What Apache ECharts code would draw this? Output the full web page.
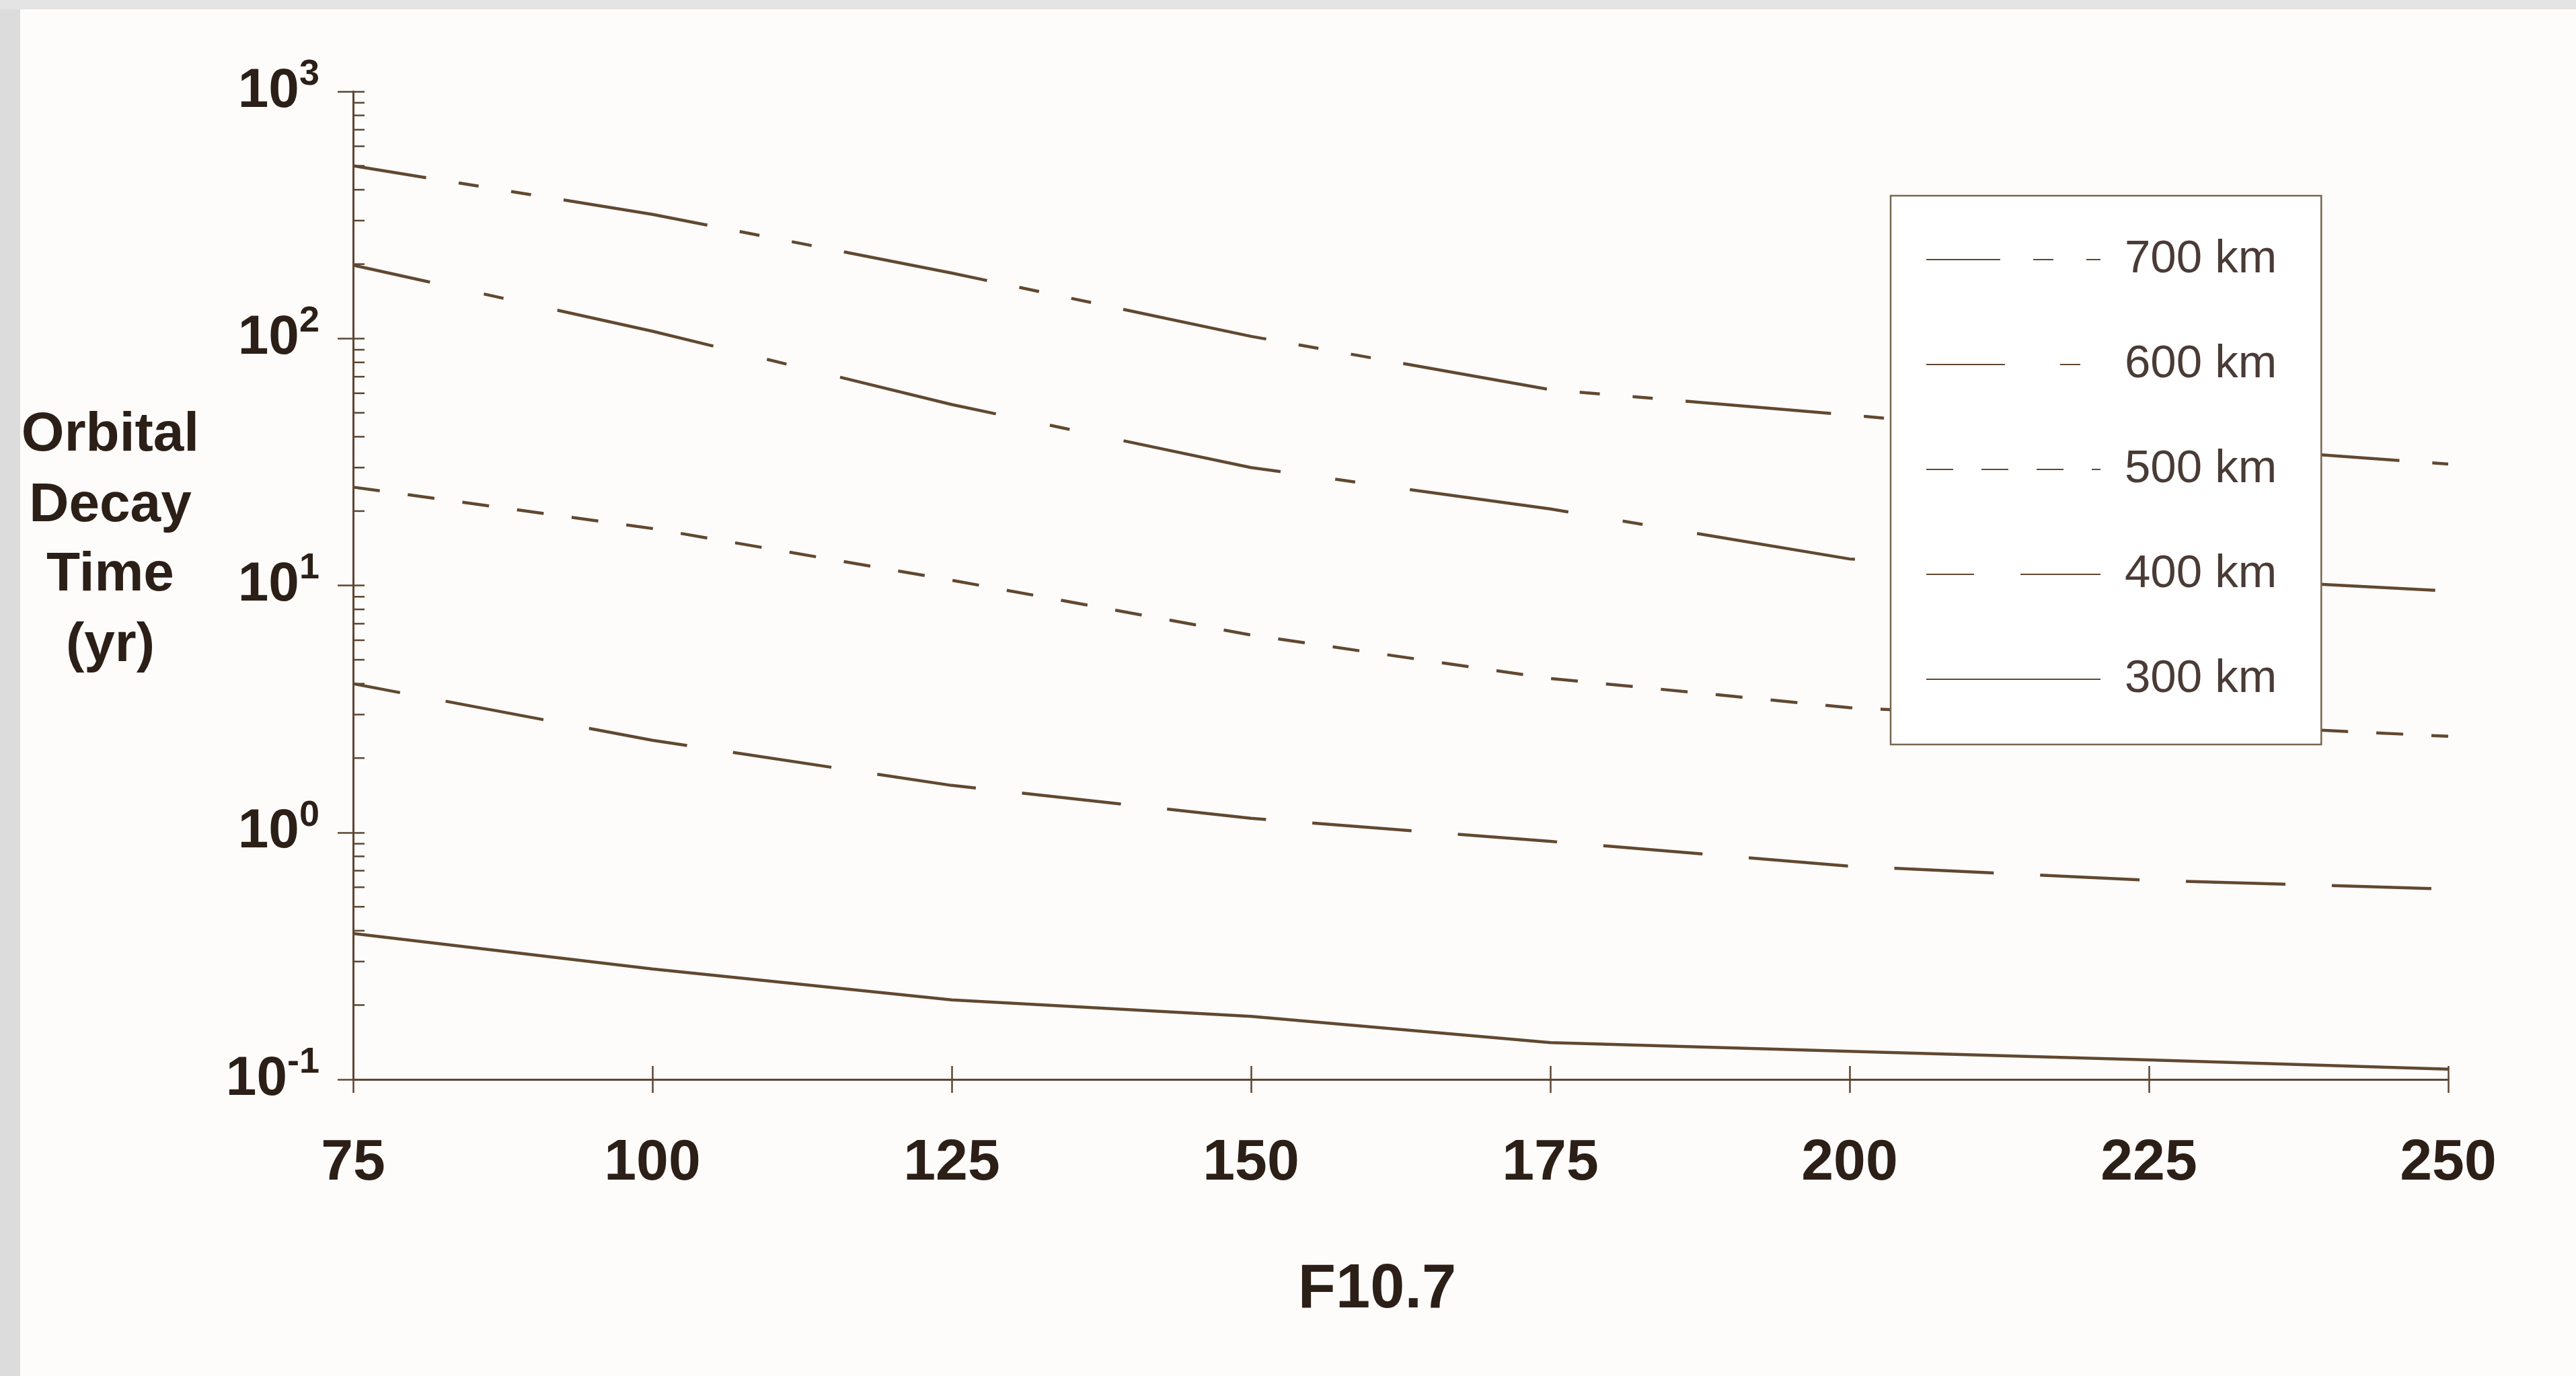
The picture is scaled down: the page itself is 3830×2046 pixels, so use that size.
<html>
<head>
<meta charset="UTF-8">
<title>Orbital Decay Time</title>
<script src="https://cdn.jsdelivr.net/npm/echarts@6/dist/echarts.min.js"></script>
<style>
    html, body{
        margin: 0;
        padding: 0;
        background: #fdfcfa;
    }
    #main{
        width: 3830px;
        height: 2046px;
    }
</style>
</head>
<body>
<div id="main"></div>
<script>
// F10.7 values on the x axis
var f107 = [75, 100, 125, 150, 175, 200, 225, 250];
// orbital decay time (yr) for each altitude
var km700 = [500, 318, 184, 102, 62, 49, 38, 31];
var km600 = [198, 107, 54, 30, 20.4, 12.8, 11, 9.5];
var km500 = [25, 17, 10.5, 6.3, 4.2, 3.2, 2.8, 2.45];
var km400 = [4.0, 2.36, 1.55, 1.14, 0.92, 0.73, 0.64, 0.59];
var km300 = [0.39, 0.28, 0.21, 0.18, 0.141, 0.13, 0.12, 0.11];
var seriesNames = ['700 km', '600 km', '500 km', '400 km', '300 km'];
// log axis: decades and the minor ticks 2..9 inside each decade
var decades = [0.1, 1, 10, 100];
var minorSteps = [2, 3, 4, 5, 6, 7, 8, 9];

var inkColor = '#5c4532';
var lineColor = '#614830';
var textColor = '#2b1f17';
var fontName = '"Liberation Sans", Arial, sans-serif';

function pairs(ys) {
    return f107.map(function (x, i) { return [x, ys[i]]; });
}

var minorTickData = [];
decades.forEach(function (d) {
    minorSteps.forEach(function (m) {
        minorTickData.push([f107[0], d * m]);
    });
});

function lineSeries(name, ys, dash, offset) {
    return {
        name: name,
        type: 'line',
        data: pairs(ys),
        symbol: 'none',
        smooth: false,
        lineStyle: {
            color: lineColor,
            width: 4.5,
            type: dash,
            dashOffset: offset
        },
        itemStyle: { color: lineColor },
        z: 2
    };
}

var myChart = echarts.init(document.getElementById('main'));

var option = {
    backgroundColor: '#fdfcfa',
    animation: false,
    grid: {
        left: 525,
        top: 136,
        right: 190,
        bottom: 441
    },
    legend: {
        data: seriesNames,
        orient: 'vertical',
        left: 2811,
        top: 291,
        itemWidth: 259,
        itemHeight: 70,
        itemGap: 86,
        padding: [60, 66, 62, 52],
        backgroundColor: '#ffffff',
        borderColor: '#7a6650',
        borderWidth: 2.5,
        borderRadius: 0,
        // hide the symbol that line series put in the middle of the legend icon
        itemStyle: { color: 'rgba(0,0,0,0)', borderWidth: 0, opacity: 0 },
        textStyle: {
            fontFamily: fontName,
            fontSize: 69,
            color: '#4a3b36',
            lineHeight: 70,
            padding: [0, 0, 0, 31]
        }
    },
    xAxis: [{
        type: 'value',
        min: 75,
        max: 250,
        interval: 25,
        position: 'bottom',
        splitLine: { show: false },
        axisLine: { lineStyle: { color: inkColor, width: 3 } },
        axisTick: { length: 20, lineStyle: { color: inkColor, width: 2.5 } },
        axisLabel: {
            margin: 82,
            fontFamily: fontName,
            fontWeight: 'bold',
            fontSize: 86,
            color: textColor
        },
        name: 'F10.7',
        nameLocation: 'middle',
        nameGap: 268,
        nameTextStyle: {
            fontFamily: fontName,
            fontWeight: 'bold',
            fontSize: 92,
            color: textColor,
            padding: [0, 70, 0, 0]
        }
    }, {
        type: 'value',
        min: 75,
        max: 250,
        interval: 25,
        position: 'bottom',
        splitLine: { show: false },
        axisLine: { show: false },
        axisTick: { inside: true, length: 20, lineStyle: { color: inkColor, width: 2.5 } },
        axisLabel: { show: false }
    }],
    yAxis: [{
        type: 'log',
        logBase: 10,
        min: 0.1,
        max: 1000,
        position: 'left',
        splitLine: { show: false },
        axisLine: { lineStyle: { color: inkColor, width: 3 } },
        axisTick: { length: 23, lineStyle: { color: inkColor, width: 2.5 } },
        axisLabel: {
            margin: 50,
            color: textColor,
            formatter: function (value) {
                var e = Math.round(Math.log(value) / Math.LN10);
                return '{b|10}{s|' + e + '}';
            },
            rich: {
                b: {
                    fontFamily: fontName,
                    fontWeight: 'bold',
                    fontSize: 82,
                    lineHeight: 104,
                    color: textColor
                },
                s: {
                    fontFamily: fontName,
                    fontWeight: 'bold',
                    fontSize: 54,
                    lineHeight: 54,
                    verticalAlign: 'top',
                    color: textColor
                }
            }
        }
    }, {
        type: 'log',
        logBase: 10,
        min: 0.1,
        max: 1000,
        position: 'left',
        splitLine: { show: false },
        axisLine: { show: false },
        axisTick: { inside: true, length: 17, lineStyle: { color: inkColor, width: 2.5 } },
        axisLabel: { show: false }
    }],
    graphic: [
        { type: 'rect', left: 0, top: 0, shape: { width: 30, height: 2046 }, style: { fill: '#dcdcdc' }, silent: true },
        { type: 'rect', left: 0, top: 0, shape: { width: 3830, height: 14 }, style: { fill: '#e4e4e4' }, silent: true },
        { type: 'text', style: { text: 'Orbital', x: 164, y: 647, align: 'center', verticalAlign: 'middle', fontFamily: fontName, fontWeight: 'bold', fontSize: 82, fill: textColor } },
        { type: 'text', style: { text: 'Decay', x: 164, y: 752, align: 'center', verticalAlign: 'middle', fontFamily: fontName, fontWeight: 'bold', fontSize: 82, fill: textColor } },
        { type: 'text', style: { text: 'Time', x: 164, y: 855, align: 'center', verticalAlign: 'middle', fontFamily: fontName, fontWeight: 'bold', fontSize: 82, fill: textColor } },
        { type: 'text', style: { text: '(yr)', x: 164, y: 960, align: 'center', verticalAlign: 'middle', fontFamily: fontName, fontWeight: 'bold', fontSize: 82, fill: textColor } }
    ],
    series: [
        lineSeries('700 km', km700, [217, 49, 30, 49, 30, 49], 107),
        lineSeries('600 km', km600, [238, 82, 30, 82], 121),
        lineSeries('500 km', km500, [40, 42], 0),
        lineSeries('400 km', km400, [148, 69], 77),
        lineSeries('300 km', km300, 'solid', 0),
        {
            // minor ticks of the log axis, placed through the axis scale
            type: 'custom',
            silent: true,
            data: minorTickData,
            encode: { x: 0, y: 1 },
            clip: false,
            renderItem: function (params, api) {
                var p = api.coord([api.value(0), api.value(1)]);
                return {
                    type: 'line',
                    shape: { x1: p[0], y1: p[1], x2: p[0] + 17, y2: p[1] },
                    style: { stroke: inkColor, lineWidth: 2.5 }
                };
            },
            z: 3
        }
    ]
};

myChart.setOption(option);
</script>
</body>
</html>
